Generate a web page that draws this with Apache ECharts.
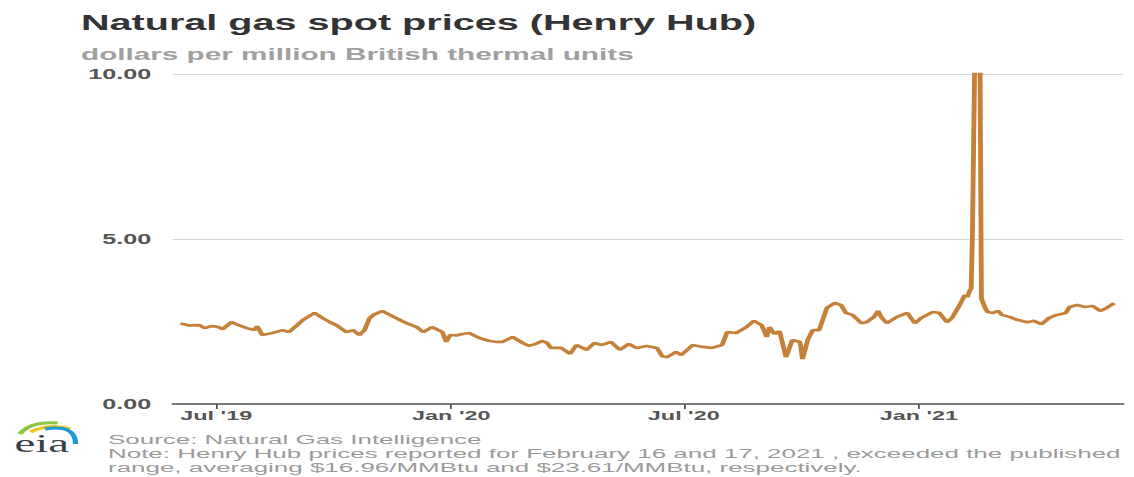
<!DOCTYPE html>
<html><head><meta charset="utf-8">
<script src="https://cdn.jsdelivr.net/npm/echarts@6/dist/echarts.min.js"></script>
<style>
html,body{margin:0;padding:0;overflow:hidden;background:#fff}
#wrap{width:1134px;height:477px;overflow:hidden}
#c{width:630px;height:477px;transform:scaleX(1.8);transform-origin:0 0}
</style>
</head><body><div id="wrap"><div id="c"></div></div>
<script>
// ---- data ----
const dates = [
'2019-06-03','2019-06-10','2019-06-18','2019-06-22','2019-06-27','2019-07-02','2019-07-06','2019-07-13','2019-07-19','2019-07-25',
'2019-07-31','2019-08-02','2019-08-06','2019-08-10','2019-08-14','2019-08-22','2019-08-27','2019-09-02','2019-09-07','2019-09-16',
'2019-09-22','2019-09-28','2019-10-03','2019-10-11','2019-10-16','2019-10-21','2019-10-25','2019-10-29','2019-11-01','2019-11-08',
'2019-11-14','2019-11-20','2019-11-27','2019-12-05','2019-12-10','2019-12-17','2019-12-25','2019-12-28','2019-12-31','2020-01-05',
'2020-01-10','2020-01-15','2020-01-23','2020-01-31','2020-02-06','2020-02-10','2020-02-18','2020-02-26','2020-03-02','2020-03-07',
'2020-03-12','2020-03-16','2020-03-19','2020-03-27','2020-04-03','2020-04-08','2020-04-16','2020-04-22','2020-04-28','2020-05-05',
'2020-05-12','2020-05-19','2020-05-25','2020-06-02','2020-06-10','2020-06-14','2020-06-18','2020-06-25','2020-06-29','2020-07-08',
'2020-07-16','2020-07-23','2020-07-31','2020-08-04','2020-08-11','2020-08-19','2020-08-25','2020-08-31','2020-09-04','2020-09-06',
'2020-09-10','2020-09-14','2020-09-19','2020-09-24','2020-09-30','2020-10-02','2020-10-06','2020-10-10','2020-10-15','2020-10-21',
'2020-10-27','2020-11-01','2020-11-05','2020-11-10','2020-11-17','2020-11-21','2020-11-27','2020-11-30','2020-12-03','2020-12-07',
'2020-12-15','2020-12-23','2020-12-29','2021-01-03','2021-01-12','2021-01-17','2021-01-23','2021-01-27','2021-02-02','2021-02-06',
'2021-02-08','2021-02-10','2021-02-11','2021-02-12','2021-02-16','2021-02-17','2021-02-18','2021-02-19','2021-02-22','2021-02-24',
'2021-02-28','2021-03-04','2021-03-07','2021-03-13','2021-03-19','2021-03-27','2021-04-01','2021-04-07','2021-04-13','2021-04-19',
'2021-04-26','2021-04-29','2021-05-05','2021-05-11','2021-05-17','2021-05-23','2021-05-28','2021-06-03'
];
const prices = [
2.44,2.38,2.39,2.30,2.36,2.34,2.27,2.48,2.38,2.30,
2.24,2.36,2.09,2.12,2.15,2.24,2.18,2.38,2.55,2.76,
2.61,2.48,2.39,2.18,2.24,2.09,2.24,2.60,2.70,2.82,
2.70,2.58,2.45,2.33,2.18,2.33,2.18,1.88,2.09,2.08,
2.12,2.15,2.00,1.91,1.88,1.88,2.03,1.85,1.76,1.82,
1.91,1.85,1.70,1.70,1.52,1.79,1.64,1.85,1.79,1.88,
1.64,1.82,1.70,1.76,1.70,1.45,1.42,1.58,1.48,1.79,
1.73,1.70,1.79,2.18,2.15,2.33,2.52,2.39,2.03,2.33,
2.12,2.21,1.42,1.94,1.88,1.36,1.94,2.24,2.24,2.91,
3.06,3.00,2.76,2.70,2.45,2.48,2.64,2.82,2.61,2.45,
2.64,2.76,2.45,2.61,2.79,2.76,2.48,2.61,3.00,3.30,
3.24,3.45,3.50,5.20,16.96,23.61,9.90,3.20,2.90,2.79,
2.76,2.82,2.70,2.64,2.55,2.48,2.52,2.42,2.61,2.70,
2.76,2.94,3.00,2.94,2.97,2.82,2.91,3.06
];
const tickDates = ['2019-07-01','2020-01-01','2020-07-01','2021-01-01'];
const tickLabels = ["Jul '19","Jan '20","Jul '20","Jan '21"];
const yMin = 0, yMax = 10, yStep = 5;
const axisStart = '2019-05-28', axisEnd = '2021-06-10';

const titleText = 'Natural gas spot prices (Henry Hub)';
const subtitleText = 'dollars per million British thermal units';
const sourceText = 'Source: Natural Gas Intelligence';
const noteLines = [
 'Note: Henry Hub prices reported for February 16 and 17, 2021 , exceeded the published',
 'range, averaging $16.96/MMBtu and $23.61/MMBtu, respectively.'
];

function ts(s){const p=s.split('-').map(Number);return Date.UTC(p[0],p[1]-1,p[2]);}
const seriesData = dates.map((d,i)=>[ts(d),prices[i]]);
const tickTs = tickDates.map(ts);
const footFont = '13px "Liberation Sans", Arial, sans-serif';

const chart = echarts.init(document.getElementById('c'), null, {renderer:'svg'});
chart.setOption({
  animation:false,
  backgroundColor:'#fff',
  grid:{left:96,right:6,top:74,bottom:73,containLabel:false},
  xAxis:{
    type:'value', min:ts(axisStart), max:ts(axisEnd),
    axisLine:{lineStyle:{color:'#555',width:1.6}},
    axisTick:{show:true,length:5,lineStyle:{color:'#555',width:1},customValues:tickTs},
    axisLabel:{customValues:tickTs,color:'#555',fontWeight:'bold',fontSize:13,fontFamily:'Liberation Sans, Arial, sans-serif',margin:5,
      formatter:function(v){const i=tickTs.indexOf(v);return i>=0?tickLabels[i]:'';}},
    splitLine:{show:false}
  },
  yAxis:{
    type:'value', min:yMin, max:yMax, interval:yStep,
    axisLine:{show:false}, axisTick:{show:false},
    axisLabel:{color:'#555',fontWeight:'bold',fontSize:14,fontFamily:'Liberation Sans, Arial, sans-serif',margin:12,
      formatter:function(v){return v.toFixed(2);}},
    splitLine:{lineStyle:{color:'#d4d4d4',width:1}}
  },
  series:[{
    type:'line', data:seriesData, showSymbol:false, symbol:'none', clip:true,
    lineStyle:{color:'#c5803a',width:2.7}, smooth:false
  }],
  graphic:[
    {type:'text',left:45,top:11,style:{text:titleText,fill:'#333',font:'bold 22px "Liberation Sans", Arial, sans-serif'}},
    {type:'text',left:45,top:46,style:{text:subtitleText,fill:'#a0a0a0',font:'bold 16.5px "Liberation Sans", Arial, sans-serif'}},
    {type:'text',left:60,top:433,scaleX:1.11,style:{text:sourceText,fill:'#9a9a9a',font:footFont}},
    {type:'text',left:60,top:447,scaleX:1.11,style:{text:noteLines[0],fill:'#9a9a9a',font:footFont}},
    {type:'text',left:60,top:461,scaleX:1.11,style:{text:noteLines[1],fill:'#9a9a9a',font:footFont}},
    {type:'bezierCurve',shape:{x1:11,y1:434,cpx1:17,cpy1:421,x2:32,y2:423},style:{stroke:'#8cc63f',lineWidth:3,fill:null}},
    {type:'bezierCurve',shape:{x1:17,y1:432,cpx1:28,cpy1:423,x2:39,y2:429},style:{stroke:'#f2c21b',lineWidth:3,fill:null}},
    {type:'bezierCurve',shape:{x1:25,y1:429,cpx1:42,cpy1:424,x2:42,y2:444},style:{stroke:'#1a9ad6',lineWidth:3,fill:null}},
    {type:'text',left:8,top:430,style:{text:'eia',fill:'#3a3f4a',font:'26px "Liberation Serif", "DejaVu Serif", serif'}}
  ]
});
</script>
</body></html>
